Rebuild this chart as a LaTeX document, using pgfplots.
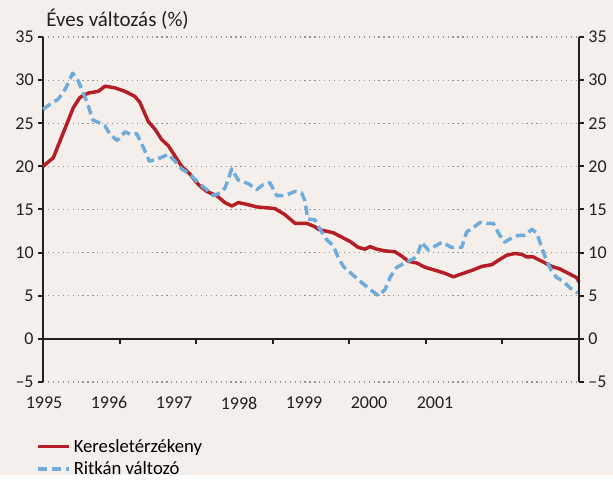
\documentclass[border=0pt]{standalone}
\usepackage{fontspec}
\setmainfont{Carlito}
\usepackage{pgfplots}
\pgfplotsset{compat=1.18}
\definecolor{bg}{RGB}{245,239,236}
\definecolor{redl}{RGB}{180,30,36}
\definecolor{bluel}{RGB}{110,172,220}
\definecolor{axc}{RGB}{35,31,32}
\definecolor{gridc}{RGB}{150,150,150}
\pgfplotstableread{
x y
43 20.0
53.3 21.0
63.3 23.9
73.3 26.8
80 28.0
88.3 28.5
98.3 28.7
105 29.3
115 29.1
125 28.7
135 28.1
140 27.4
148.3 25.2
155 24.3
161.7 23.1
168.3 22.4
175 21.2
181.7 20.0
190 19.1
198.3 17.9
206.7 17.1
216.7 16.6
225 15.8
231.7 15.4
238.3 15.8
246.7 15.6
256.7 15.3
266.7 15.2
275 15.1
285 14.4
295 13.4
306.7 13.4
315 13.0
318.3 12.7
333.3 12.3
343.3 11.7
350 11.3
358.3 10.6
365 10.4
370 10.7
376.7 10.4
385 10.2
395 10.1
401.7 9.6
408.3 9.0
416.7 8.8
425 8.3
436.7 7.9
445 7.6
453.3 7.2
463.3 7.6
473.3 8.0
481.7 8.4
491.7 8.6
498.3 9.1
506.7 9.7
515 9.9
521.7 9.8
526.7 9.5
533.3 9.5
541.7 9.0
551.7 8.4
560 8.1
568.3 7.6
576.7 7.1
579 6.6
}\redtab
\pgfplotstableread{
x y
43 26.6
50 27.2
58.3 27.8
65 28.9
72.7 30.8
78.3 29.9
83.3 28.5
88.3 27.0
92.7 25.4
100 25.0
105 24.7
110 23.7
117.3 23.0
125 24.0
130.7 23.7
136.7 23.8
143.3 22.2
149.3 20.6
156.7 20.8
168.3 21.4
175 20.6
181.7 19.7
190 19.1
198.3 18.1
206.7 17.3
213.3 16.6
220 16.9
225 17.5
228.3 18.5
231.7 19.7
238.3 18.4
248.3 18.0
256.7 17.3
263.3 17.9
270 18.1
276.7 16.6
285 16.6
295 17.1
301.7 16.9
305 16.0
307.7 13.9
315 13.8
320 12.7
326.7 11.5
333.3 10.8
338.3 9.4
343.3 8.4
350 7.7
360 6.7
368.3 5.9
378.3 5.0
385 5.7
390 7.1
396.7 8.3
406.7 8.9
416.7 9.5
421.7 11.2
428.3 10.3
441.7 11.2
451.7 10.6
461.7 10.6
466.7 12.4
473.3 12.9
480 13.5
486.7 13.4
493.3 13.4
498.3 12.3
504.3 11.2
511.7 11.7
518.3 12.0
525 12.0
531.7 12.7
536.7 12.3
541.7 10.6
546.7 9.0
551 8.0
556.7 7.1
563.3 6.7
570 5.9
576.7 5.4
579 5.4
}\bluetab
\begin{document}
\begin{tikzpicture}
\fill[bg] (0,0) rectangle (459.75pt,356.25pt);
\pgfplotsset{
 common/.style={at={(32.25pt,69.75pt)}, anchor=south west, scale only axis,
  width=402pt, height=258.75pt, xmin=43, xmax=579, ymin=-5, ymax=35,
  ytick={-5,0,...,35}, yticklabels={--5,0,5,10,15,20,25,30,35},
  tick style={axc, line width=1.5pt}, major tick length=3.5pt, tick align=outside,
  axis line style={axc, line width=2pt, -},
  every inner x axis line/.append style={-},
  ticklabel style={font=\fontsize{13.5pt}{16pt}\selectfont, text=axc},
 }
}
\begin{axis}[common, axis y line*=left, axis x line*=middle,
  hide obscured x ticks=false, hide obscured y ticks=false,
  xtick={119.57,196.14,272.71,349.29,425.86,502.43}, xticklabels={},
  ymajorgrids, grid style={gridc, line width=0.9pt, dash pattern=on 0.9pt off 2.8pt},
  clip=false,
  legend style={at={(axis description cs:-0.013,-0.157)}, anchor=north west, draw=none, fill=none,
    font=\fontsize{14pt}{16pt}\selectfont, row sep=1.6pt, inner sep=0pt},
  legend cell align=left,
  legend image code/.code={\draw[#1] (0pt,0pt) -- (23.5pt,0pt);},
]
\addplot[redl, line width=2.6pt, line join=round] table[x=x,y=y] {\redtab};
\addlegendentry{Keresletérzékeny}
\addplot[bluel, line width=2.6pt, line join=round, dash pattern=on 7pt off 3.5pt] table[x=x,y=y] {\bluetab};
\addlegendentry{Ritkán változó}
\end{axis}
\begin{axis}[common, axis y line*=right, axis x line*=bottom,
  x axis line style={draw=none}, xtick={44,109,174,239,304,369,435},
  xticklabels={1995,1996,1997,1998,1999,2000,2001},
  x tick style={draw=none}, xticklabel style={yshift=-4pt}]
\end{axis}
\node[anchor=base west, font=\fontsize{15.7pt}{18pt}\selectfont, text=axc] at (31.3pt,336pt) {Éves változás (\%)};
\end{tikzpicture}
\end{document}
